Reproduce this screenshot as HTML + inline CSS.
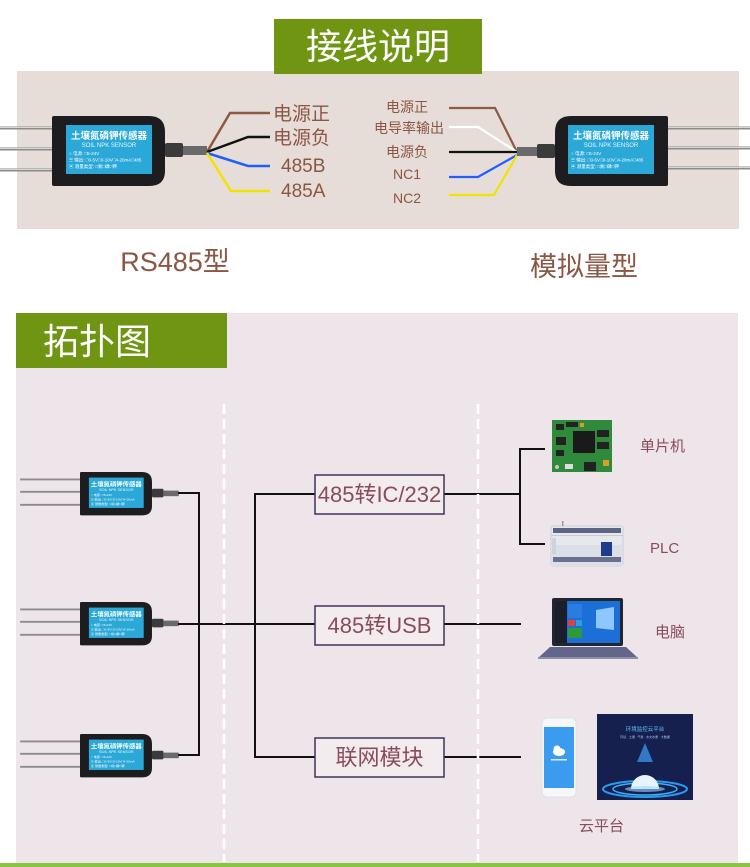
<!DOCTYPE html>
<html><head><meta charset="utf-8">
<style>
html,body{margin:0;padding:0;background:#fff;}
svg{display:block;}
text{font-family:"Liberation Sans","Noto Sans CJK SC",sans-serif;}
</style></head><body>
<svg width="750" height="867" viewBox="0 0 750 867" xmlns="http://www.w3.org/2000/svg">
<rect width="750" height="867" fill="#fff"/>

<!-- ===== Wiring section ===== -->
<rect x="17" y="71" width="722" height="158" fill="#e7ddd8"/>
<rect x="274" y="19" width="208" height="55" fill="#6f9512"/>
<text x="378" y="59" font-size="36" fill="#fff" text-anchor="middle">接线说明</text>

<!-- left sensor -->
<g transform="translate(52,116)">
  <g stroke="#8c8c8c" stroke-width="3">
    <line x1="-52" y1="12" x2="2" y2="12"/><line x1="-52" y1="33" x2="2" y2="33"/><line x1="-52" y1="54" x2="2" y2="54"/>
  </g>
  <g stroke="#d6d6d6" stroke-width="1">
    <line x1="-52" y1="11.5" x2="2" y2="11.5"/><line x1="-52" y1="32.5" x2="2" y2="32.5"/><line x1="-52" y1="53.5" x2="2" y2="53.5"/>
  </g>
  <path d="M0,2 Q0,0 2,0 H97 Q113,0 113,16 V55 Q113,70 97,70 H2 Q0,70 0,68 Z" fill="#1d1d1f"/>
  <rect x="14" y="9" width="86" height="49" fill="#2aa8d8"/>
  <text x="57" y="23" font-size="9.5" font-weight="bold" fill="#fff" text-anchor="middle">土壤氮磷钾传感器</text>
  <text x="57" y="31" font-size="6" fill="#e8f6ff" text-anchor="middle">SOIL NPK SENSOR</text>
  <text x="17" y="39" font-size="4.5" fill="#fff">○ 电源: □5-24V</text>
  <text x="17" y="45.5" font-size="4.5" fill="#fff">☰ 输出: □0-5V□0-10V□4-20mA□485</text>
  <text x="17" y="52" font-size="4.5" fill="#fff">▣ 测量类型: □氮□磷□钾</text>
  <rect x="113" y="27" width="18" height="14" rx="2" fill="#3b3b3b"/>
  <rect x="131" y="30" width="24" height="9" fill="#6a6a6a"/>
</g>

<!-- left wires -->
<g fill="none" stroke-width="2.5">
  <polyline points="207,152 230,113 270,113" stroke="#8d5a44"/>
  <polyline points="207,152 248,137 270,137" stroke="#111"/>
  <polyline points="207,153 248,166 270,166" stroke="#1f5fff"/>
  <polyline points="207,153 231,191 270,191" stroke="#f2e200"/>
</g>
<g font-size="19" fill="#8b5643">
  <text x="273" y="120">电源正</text>
  <text x="273" y="144">电源负</text>
  <text x="281" y="172">485B</text>
  <text x="281" y="197">485A</text>
</g>
<text x="175" y="271" font-size="27" fill="#8b5643" text-anchor="middle">RS485型</text>

<!-- right labels -->
<g font-size="14" fill="#8b5643" text-anchor="middle">
  <text x="407" y="112">电源正</text>
  <text x="409" y="133">电导率输出</text>
  <text x="407" y="157">电源负</text>
  <text x="407" y="179">NC1</text>
  <text x="407" y="203">NC2</text>
</g>
<g fill="none" stroke-width="2.2">
  <polyline points="449,108 495,108 517,152" stroke="#8d5a44"/>
  <polyline points="449,127 478,127 517,152" stroke="#ffffff"/>
  <polyline points="449,152 517,152" stroke="#111"/>
  <polyline points="449,177 478,177 517,155" stroke="#1f5fff"/>
  <polyline points="449,195 494,195 517,155" stroke="#f2e200"/>
</g>

<!-- right sensor -->
<g transform="translate(555,116)">
  <g stroke="#8c8c8c" stroke-width="3">
    <line x1="111" y1="12" x2="195" y2="12"/><line x1="111" y1="32" x2="195" y2="32"/><line x1="111" y1="52" x2="195" y2="52"/>
  </g>
  <g stroke="#d6d6d6" stroke-width="1">
    <line x1="111" y1="11.5" x2="195" y2="11.5"/><line x1="111" y1="31.5" x2="195" y2="31.5"/><line x1="111" y1="51.5" x2="195" y2="51.5"/>
  </g>
  <path d="M113,2 Q113,0 111,0 H16 Q0,0 0,16 V55 Q0,70 16,70 H111 Q113,70 113,68 Z" fill="#1d1d1f"/>
  <rect x="13" y="9" width="86" height="49" fill="#2aa8d8"/>
  <text x="56" y="23" font-size="9.5" font-weight="bold" fill="#fff" text-anchor="middle">土壤氮磷钾传感器</text>
  <text x="56" y="31" font-size="6" fill="#e8f6ff" text-anchor="middle">SOIL NPK SENSOR</text>
  <text x="16" y="39" font-size="4.5" fill="#fff">○ 电源: □5-24V</text>
  <text x="16" y="45.5" font-size="4.5" fill="#fff">☰ 输出: □0-5V□0-10V□4-20mA□485</text>
  <text x="16" y="52" font-size="4.5" fill="#fff">▣ 测量类型: □氮□磷□钾</text>
  <rect x="-18" y="28" width="18" height="14" rx="2" fill="#3b3b3b"/>
  <rect x="-38" y="31" width="20" height="9" fill="#6a6a6a"/>
</g>
<text x="584" y="276" font-size="27" fill="#8b5643" text-anchor="middle">模拟量型</text>

<!-- ===== Topology section ===== -->
<rect x="16" y="313" width="722" height="550" fill="#ede5e9"/>
<rect x="16" y="313" width="211" height="55" fill="#6f9512"/>
<text x="43" y="354" font-size="36" fill="#fff">拓扑图</text>
<rect x="0" y="863" width="750" height="4" fill="#8bc540"/>

<!-- topology sensors -->
<g transform="translate(80,472) scale(0.637,0.62)">
  <g stroke="#8c8c8c" stroke-width="3"><line x1="-94" y1="12" x2="2" y2="12"/><line x1="-94" y1="32" x2="2" y2="32"/><line x1="-94" y1="53" x2="2" y2="53"/></g>
  <path d="M0,2 Q0,0 2,0 H97 Q113,0 113,16 V55 Q113,70 97,70 H2 Q0,70 0,68 Z" fill="#1d1d1f"/>
  <rect x="14" y="9" width="86" height="49" fill="#2aa8d8"/>
  <text x="57" y="23" font-size="10" font-weight="bold" fill="#fff" text-anchor="middle">土壤氮磷钾传感器</text>
  <text x="57" y="31" font-size="6" fill="#e8f6ff" text-anchor="middle">SOIL NPK SENSOR</text>
  <text x="17" y="39" font-size="5" fill="#fff">○ 电源: □5-24V</text>
  <text x="17" y="46" font-size="5" fill="#fff">☰ 输出: □0-5V□0-10V□4-20mA</text>
  <text x="17" y="53" font-size="5" fill="#fff">▣ 测量类型: □氮□磷□钾</text>
  <rect x="113" y="27" width="18" height="14" rx="2" fill="#3b3b3b"/>
  <rect x="131" y="30" width="24" height="9" fill="#6a6a6a"/>
</g>
<g transform="translate(80,602) scale(0.637,0.62)">
  <g stroke="#8c8c8c" stroke-width="3"><line x1="-94" y1="12" x2="2" y2="12"/><line x1="-94" y1="32" x2="2" y2="32"/><line x1="-94" y1="53" x2="2" y2="53"/></g>
  <path d="M0,2 Q0,0 2,0 H97 Q113,0 113,16 V55 Q113,70 97,70 H2 Q0,70 0,68 Z" fill="#1d1d1f"/>
  <rect x="14" y="9" width="86" height="49" fill="#2aa8d8"/>
  <text x="57" y="23" font-size="10" font-weight="bold" fill="#fff" text-anchor="middle">土壤氮磷钾传感器</text>
  <text x="57" y="31" font-size="6" fill="#e8f6ff" text-anchor="middle">SOIL NPK SENSOR</text>
  <text x="17" y="39" font-size="5" fill="#fff">○ 电源: □5-24V</text>
  <text x="17" y="46" font-size="5" fill="#fff">☰ 输出: □0-5V□0-10V□4-20mA</text>
  <text x="17" y="53" font-size="5" fill="#fff">▣ 测量类型: □氮□磷□钾</text>
  <rect x="113" y="27" width="18" height="14" rx="2" fill="#3b3b3b"/>
  <rect x="131" y="30" width="24" height="9" fill="#6a6a6a"/>
</g>
<g transform="translate(80,734) scale(0.637,0.62)">
  <g stroke="#8c8c8c" stroke-width="3"><line x1="-94" y1="12" x2="2" y2="12"/><line x1="-94" y1="32" x2="2" y2="32"/><line x1="-94" y1="53" x2="2" y2="53"/></g>
  <path d="M0,2 Q0,0 2,0 H97 Q113,0 113,16 V55 Q113,70 97,70 H2 Q0,70 0,68 Z" fill="#1d1d1f"/>
  <rect x="14" y="9" width="86" height="49" fill="#2aa8d8"/>
  <text x="57" y="23" font-size="10" font-weight="bold" fill="#fff" text-anchor="middle">土壤氮磷钾传感器</text>
  <text x="57" y="31" font-size="6" fill="#e8f6ff" text-anchor="middle">SOIL NPK SENSOR</text>
  <text x="17" y="39" font-size="5" fill="#fff">○ 电源: □5-24V</text>
  <text x="17" y="46" font-size="5" fill="#fff">☰ 输出: □0-5V□0-10V□4-20mA</text>
  <text x="17" y="53" font-size="5" fill="#fff">▣ 测量类型: □氮□磷□钾</text>
  <rect x="113" y="27" width="18" height="14" rx="2" fill="#3b3b3b"/>
  <rect x="131" y="30" width="24" height="9" fill="#6a6a6a"/>
</g>

<!-- topology lines -->
<g fill="none" stroke="#111" stroke-width="2">
  <polyline points="178,493 199,493 199,755 178,755"/>
  <line x1="178" y1="624" x2="315" y2="624"/>
  <polyline points="315,494 255,494 255,757 315,757"/>
  <line x1="444" y1="494" x2="520" y2="494"/>
  <polyline points="545,449 520,449 520,544 545,544"/>
  <line x1="444" y1="624" x2="521" y2="624"/>
  <line x1="444" y1="757" x2="521" y2="757"/>
</g>

<!-- dashed separators -->
<g stroke="#ffffff" stroke-width="2.5" stroke-dasharray="10 5">
  <line x1="224" y1="404" x2="224" y2="862"/>
  <line x1="478" y1="404" x2="478" y2="862"/>
</g>

<!-- converter boxes -->
<g fill="#f2ecef" stroke="#3f3555" stroke-width="1.5">
  <rect x="315" y="475" width="129" height="39"/>
  <rect x="315" y="606" width="129" height="39"/>
  <rect x="315" y="738" width="129" height="39"/>
</g>
<g font-size="22" fill="#8a4b5b" text-anchor="middle">
  <text x="379.5" y="502">485转IC/232</text>
  <text x="379.5" y="633">485转USB</text>
  <text x="379.5" y="765">联网模块</text>
</g>

<!-- PCB -->
<g>
  <rect x="552" y="420" width="60" height="52" fill="#2f8a3c"/>
  <rect x="573" y="431" width="22" height="22" fill="#1a1a1a"/>
  <rect x="556" y="424" width="8" height="6" fill="#222"/>
  <rect x="566" y="422" width="12" height="5" fill="#222"/>
  <rect x="597" y="430" width="12" height="7" fill="#222"/>
  <rect x="597" y="442" width="12" height="7" fill="#222"/>
  <rect x="556" y="437" width="10" height="8" fill="#222"/>
  <rect x="556" y="450" width="8" height="6" fill="#222"/>
  <rect x="584" y="462" width="12" height="9" fill="#222"/>
  <rect x="565" y="464" width="8" height="5" fill="#ddd"/>
  <rect x="603" y="460" width="6" height="6" fill="#d9a020"/>
  <rect x="580" y="423" width="4" height="4" fill="#d9a020"/>
  <circle cx="557" cy="467" r="2" fill="#c8c8c8"/>
</g>
<text x="640" y="451" font-size="15" fill="#8a4b5b">单片机</text>

<!-- PLC -->
<g>
  <rect x="551" y="526" width="72" height="40" rx="2" fill="#e6e8ee" stroke="#c4c7d2" stroke-width="0.8"/>
  <rect x="551" y="545" width="72" height="21" fill="#dcdfe7"/>
  <rect x="553" y="528" width="68" height="5" fill="#5d6485"/>
  <rect x="553" y="557" width="68" height="5" fill="#6a7090"/>
  <rect x="551" y="535" width="72" height="1" fill="#c9ccd6"/>
  <rect x="601" y="542" width="11" height="14" fill="#1d3c8c"/>
  <rect x="552" y="538" width="4" height="16" fill="#cfd2da"/>
  <rect x="562" y="521" width="1.5" height="5" fill="#9a9a9a"/>
</g>
<text x="650" y="553" font-size="15" fill="#8a4b5b">PLC</text>

<!-- Laptop -->
<g>
  <rect x="552" y="598" width="71" height="48" rx="2" fill="#22252f"/>
  <rect x="555" y="601" width="65" height="42" fill="#1b6fd6"/>
  <rect x="555" y="601" width="12" height="42" fill="#1b1f2c"/>
  <rect x="568" y="604" width="14" height="14" fill="#2a7de0"/>
  <rect x="568" y="620" width="7" height="6" fill="#e04040"/>
  <rect x="576" y="620" width="6" height="6" fill="#2aa0e0"/>
  <rect x="568" y="628" width="14" height="10" fill="#2c9a3c"/>
  <polygon points="596,610 614,607 614,630 596,628" fill="#8ec6ff"/>
  <polygon points="538,658 638,658 626,647 550,647" fill="#62668a"/>
  <rect x="538" y="657" width="100" height="2" fill="#8c90aa"/>
</g>
<text x="655" y="637" font-size="15" fill="#8a4b5b">电脑</text>

<!-- Phone -->
<g>
  <rect x="542" y="718" width="34" height="79" rx="5" fill="#f6f7fa" stroke="#dcdde4" stroke-width="0.8"/>
  <rect x="544" y="727" width="30" height="61" fill="#3a9bef"/>
  <ellipse cx="559" cy="752" rx="6" ry="4" fill="#fff"/>
  <circle cx="557" cy="749" r="3.5" fill="#fff"/>
  <rect x="551" y="759" width="16" height="1.5" fill="#d8ecff"/>
</g>

<!-- Cloud platform -->
<g>
  <rect x="597" y="714" width="96" height="86" fill="#16204e"/>
  <text x="645" y="731" font-size="5.5" fill="#5fc8ff" text-anchor="middle">环境监控云平台</text>
  <text x="645" y="738" font-size="3" fill="#a8c8ff" text-anchor="middle">环境 · 土壤 · 气象 · 水文水质 · 大数据</text>
  <polygon points="645,743 637,762 653,762" fill="#3a8ee8" opacity="0.8"/>
  <ellipse cx="645" cy="789" rx="42" ry="8" fill="none" stroke="#2a9af0" stroke-width="2"/>
  <ellipse cx="645" cy="789" rx="32" ry="6" fill="none" stroke="#3ab0ff" stroke-width="1.5"/>
  <path d="M631,789 A14,14 0 0 1 659,789 Z" fill="#e8f4ff"/>
  <ellipse cx="645" cy="789" rx="20" ry="3" fill="#9fd8ff" opacity="0.6"/>
</g>
<text x="579" y="831" font-size="15" fill="#8a4b5b">云平台</text>

</svg>
</body></html>
